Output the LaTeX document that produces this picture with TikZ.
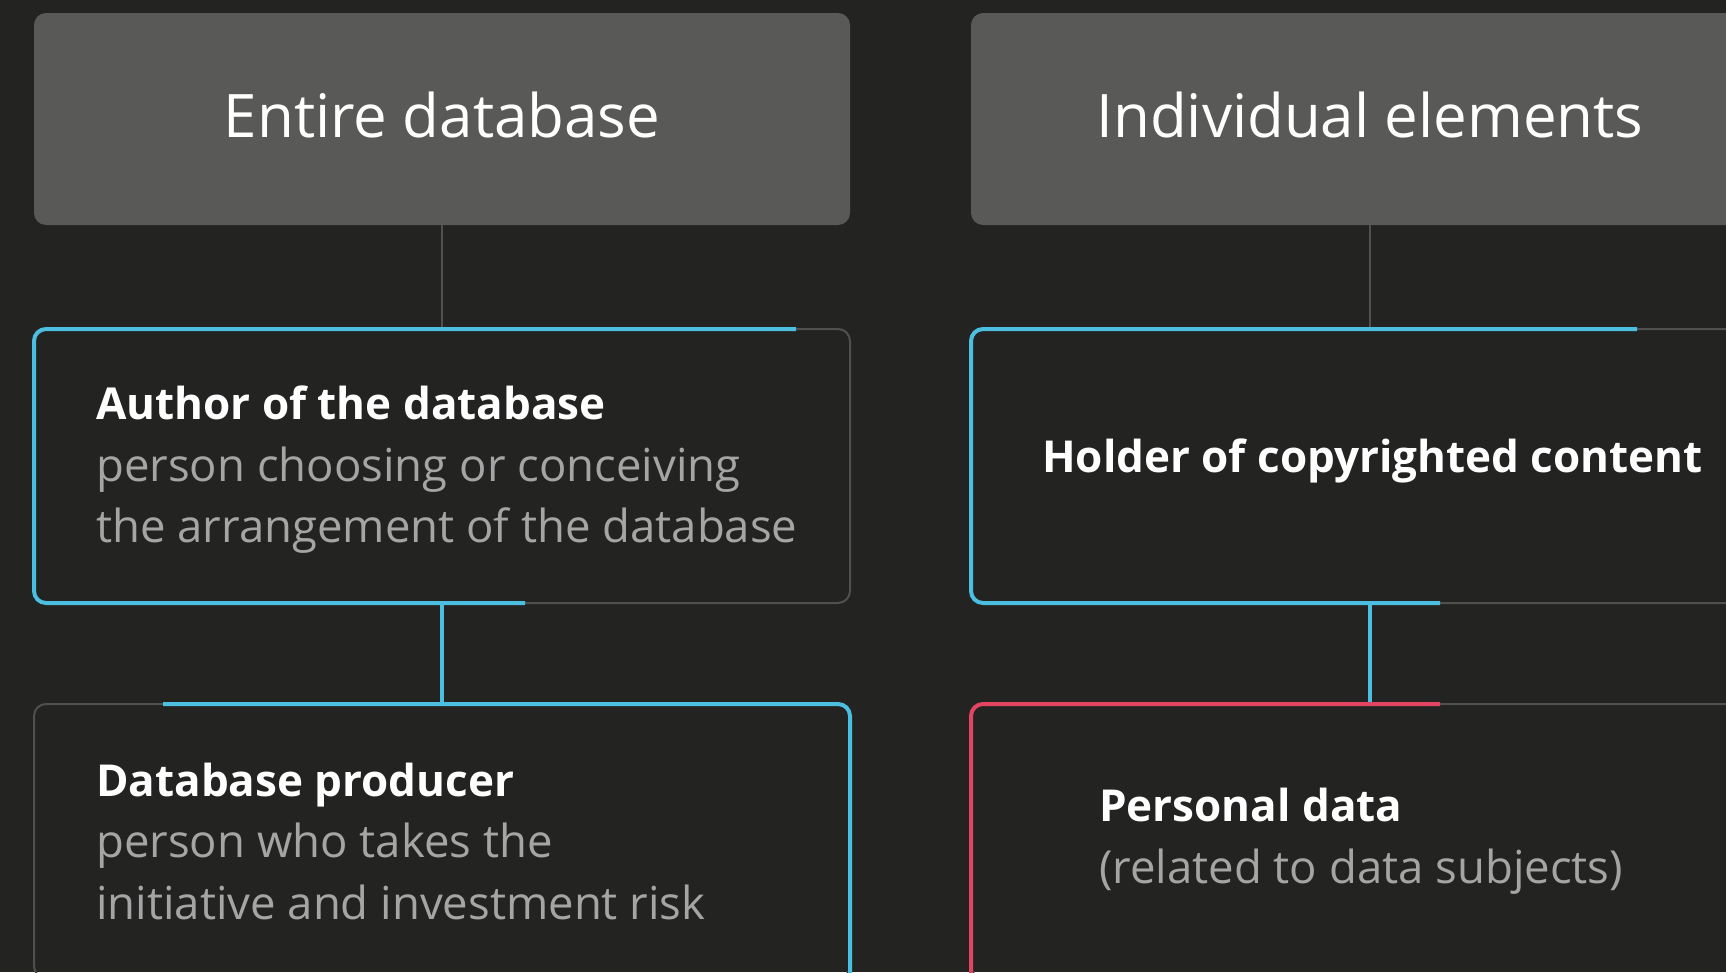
\documentclass[tikz,border=0pt]{standalone}
\usepackage{fontspec}
\setmainfont{Open Sans}
\usetikzlibrary{positioning}
\definecolor{bgdark}{RGB}{35,35,34}
\definecolor{headgray}{RGB}{89,89,87}
\definecolor{edgegray}{RGB}{80,80,80}
\definecolor{subgray}{RGB}{165,165,165}
\definecolor{roleblue}{RGB}{76,190,224}
\definecolor{rolered}{RGB}{226,68,98}
\newcommand{\rolehead}[1]{\textcolor{white}{\fontsize{44}{61.5}\selectfont\textbf{#1}}}

\begin{document}
\begin{tikzpicture}[x=1pt, y=1pt,
  headbox/.style={fill=headgray, rounded corners=12pt, minimum height=212pt, outer sep=0pt, text depth=9pt, text=white, font=\fontsize{60}{64}\selectfont},
  rolebox/.style={draw=edgegray, line width=2pt, rounded corners=12pt, minimum height=274pt, outer sep=0pt},
  roletext/.style={anchor=west, align=left, inner sep=0pt, text=subgray, font=\fontsize{45.5}{61.5}\selectfont},
  hilite/.style={line width=4pt, rounded corners=12pt}]
\path[use as bounding box, fill=bgdark] (0,0) rectangle (1726,-972);
\node[headbox, minimum width=816pt] (entire) at (442,-119) {Entire database};
\node[headbox, minimum width=798pt, right=121pt of entire] (elements) {Individual elements};
\node[rolebox, minimum width=816pt, below=104pt of entire] (author) {};
\node[rolebox, minimum width=816pt, below=101pt of author] (producer) {};
\node[rolebox, minimum width=798pt, below=104pt of elements] (holder) {};
\node[rolebox, minimum width=798pt, below=101pt of holder] (personal) {};
\node[roletext, right=62pt of author.west, yshift=-4pt] (authortext) {\rolehead{Author of the database}\\person choosing or conceiving\\the arrangement of the database};
\node[roletext, right=62pt of producer.west] (producertext) {\rolehead{Database producer}\\person who takes the\\initiative and investment risk};
\node[roletext, right=71pt of holder.west, yshift=5pt] (holdertext) {\rolehead{Holder of copyrighted content}};
\node[roletext, right=128pt of personal.west] (personaltext) {\rolehead{Personal data}\\(related to data subjects)};
\draw[edgegray, line width=2pt] (entire) -- (author);
\draw[edgegray, line width=2pt] (elements) -- (holder);
\draw[roleblue, line width=4pt] (author) -- (producer);
\draw[roleblue, line width=4pt] (holder) -- (personal);
\draw[hilite, roleblue] ([xshift=354pt]author.north) -- (author.north west) -- (author.south west) -- ([xshift=83pt]author.south);
\draw[hilite, roleblue] ([xshift=-279pt]producer.north) -- (producer.north east) -- (producer.south east);
\draw[hilite, roleblue] ([xshift=267pt]holder.north) -- (holder.north west) -- (holder.south west) -- ([xshift=70pt]holder.south);
\draw[hilite, rolered] ([xshift=70pt]personal.north) -- (personal.north west) -- (personal.south west);
\end{tikzpicture}
\end{document}
